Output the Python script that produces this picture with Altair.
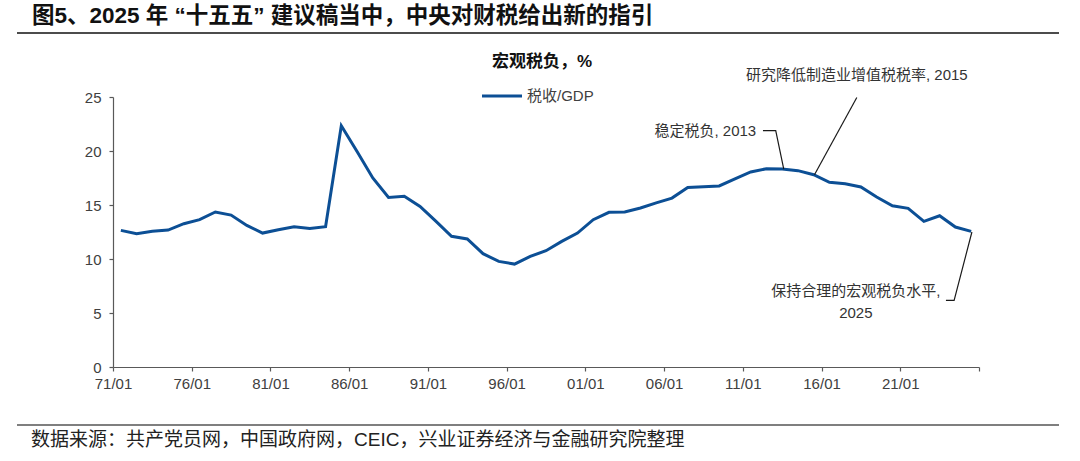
import altair as alt
import pandas as pd

# ---- data ----
years = list(range(1971, 2026))
tax_gdp = [12.65, 12.34, 12.56, 12.68, 13.27, 13.64, 14.35, 14.07, 13.11, 12.40,
           12.71, 12.99, 12.83, 12.99, 22.34, 19.96, 17.50, 15.70, 15.80, 14.87,
           13.50, 12.10, 11.85, 10.49, 9.78, 9.53, 10.24, 10.77, 11.63, 12.40,
           13.64, 14.32, 14.35, 14.72, 15.20, 15.64, 16.63, 16.69, 16.76, 17.41,
           18.06, 18.36, 18.33, 18.18, 17.80, 17.10, 16.97, 16.67, 15.74, 14.93,
           14.69, 13.48, 14.00, 12.96, 12.56]
tick_years = [1971, 1976, 1981, 1986, 1991, 1996, 2001, 2006, 2011, 2016, 2021, 2026]

title_text = "图5、2025 年 “十五五” 建议稿当中，中央对财税给出新的指引"
chart_title = "宏观税负，%"
legend_label = "税收/GDP"
source_text = "数据来源：共产党员网，中国政府网，CEIC，兴业证券经济与金融研究院整理"

# annotations (text in data coordinates: year position, value)
ann_text = ["研究降低制造业增值税税率, 2015", "稳定税负, 2013", "保持合理的宏观税负水平,", "2025"]
ann_x = [2018.24, 2011.85, 2018.18, 2018.18]
ann_y = [27.05, 21.88, 7.07, 5.03]
ann_align = ["center", "right", "center", "center"]

# leader lines (polyline vertices in data coordinates)
lead_id = [1, 1, 2, 2, 2, 3, 3, 3]
lead_ord = [0, 1, 0, 1, 2, 0, 1, 2]
lead_x = [2018.24, 2015.55, 2012.28, 2013.09, 2013.6, 2023.9, 2024.42, 2025.55]
lead_y = [24.95, 17.80, 21.88, 21.88, 18.33, 6.17, 6.17, 12.5]

FONT = "Liberation Sans, Arial, Noto Sans CJK SC, sans-serif"
BLUE = "#0C4F95"

df = pd.DataFrame({"t": [y + 0.5 for y in years], "v": tax_gdp, "s": legend_label})
ann = pd.DataFrame({"x": ann_x, "y": ann_y, "text": ann_text, "align": ann_align})
lead = pd.DataFrame({"id": lead_id, "o": lead_ord, "x": lead_x, "y": lead_y})

xscale = alt.Scale(domain=[1971, 2026], nice=False, zero=False)
yscale = alt.Scale(domain=[0, 25], nice=False)

line = alt.Chart(df).mark_line(color=BLUE, strokeWidth=3, clip=False).encode(
    x=alt.X("t:Q", scale=xscale, title=None,
            axis=alt.Axis(values=tick_years, grid=False,
                          labelExpr="datum.value >= 2026 ? '' : ((datum.value % 100) < 10 ? '0' : '') + (datum.value % 100) + '/01'",
                          labelFont=FONT, labelFontSize=15, labelColor="#404040",
                          labelPadding=5, tickSize=4, tickColor="#595959",
                          domainColor="#595959", domainWidth=1.2, tickWidth=1.2,
                          labelFlush=False)),
    y=alt.Y("v:Q", scale=yscale, title=None,
            axis=alt.Axis(values=[0, 5, 10, 15, 20, 25], grid=False,
                          labelFont=FONT, labelFontSize=15, labelColor="#404040",
                          labelPadding=8, tickSize=4, tickColor="#595959",
                          domainColor="#595959", domainWidth=1.2, tickWidth=1.2)),
)

leaders = alt.Chart(lead).mark_line(color="#1a1a1a", strokeWidth=1.2, clip=False).encode(
    x=alt.X("x:Q", scale=xscale),
    y=alt.Y("y:Q", scale=yscale),
    detail="id:N",
    order="o:Q",
)

ann_layers = []
for al in ["center", "right"]:
    sub = ann[ann["align"] == al]
    ann_layers.append(
        alt.Chart(sub).mark_text(font=FONT, fontSize=15, color="#333333", align=al,
                                 baseline="middle", clip=False).encode(
            x=alt.X("x:Q", scale=xscale), y=alt.Y("y:Q", scale=yscale), text="text:N")
    )

# decorative text/lines positioned in pixels relative to the plot area
title_df = pd.DataFrame({"text": [title_text]})
title = alt.Chart(title_df).mark_text(font=FONT, fontSize=22.5, fontWeight="bold", color="#111111",
                                      align="left", baseline="middle").encode(
    x=alt.value(-81), y=alt.value(-81), text="text:N")
ctitle = alt.Chart(pd.DataFrame({"text": [chart_title]})).mark_text(
    font=FONT, fontSize=17, fontWeight="bold", color="#111111", align="center", baseline="middle").encode(
    x=alt.value(429), y=alt.value(-35), text="text:N")
leg_line = alt.Chart(pd.DataFrame({"s": [legend_label]})).mark_rule(color=BLUE, strokeWidth=3).encode(
    x=alt.value(369), x2=alt.value(409), y=alt.value(-1))
leg_text = alt.Chart(pd.DataFrame({"text": [legend_label]})).mark_text(
    font=FONT, fontSize=15, color="#404040", align="left", baseline="middle").encode(
    x=alt.value(414), y=alt.value(-1), text="text:N")
top_rule = alt.Chart(pd.DataFrame({"a": [1]})).mark_rule(color="#111111", strokeWidth=1.6).encode(
    x=alt.value(-96), x2=alt.value(946), y=alt.value(-64))
bot_rule = alt.Chart(pd.DataFrame({"a": [1]})).mark_rule(color="#555555", strokeWidth=1.6).encode(
    x=alt.value(-96), x2=alt.value(946), y=alt.value(328))
source = alt.Chart(pd.DataFrame({"text": [source_text]})).mark_text(
    font=FONT, fontSize=19, color="#222222", align="left", baseline="middle").encode(
    x=alt.value(-82), y=alt.value(343), text="text:N")

chart = alt.layer(line, leaders, *ann_layers, title, ctitle, leg_line, leg_text,
                  top_rule, bot_rule, source).properties(
    width=866, height=270,
    autosize=alt.AutoSizeParams(type="none"),
    padding={"left": 113, "top": 97, "right": 101, "bottom": 94},
    background="white",
).configure_view(stroke=None)

chart.save("out.html", embed_options={"renderer": "svg", "actions": False})
